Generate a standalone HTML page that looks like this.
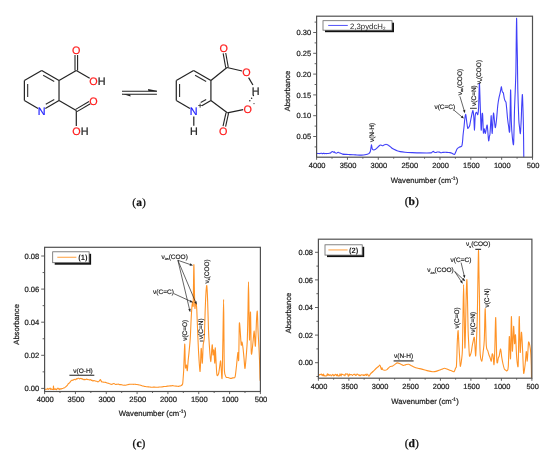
<!DOCTYPE html>
<html><head><meta charset="utf-8"><title>Figure</title>
<style>html,body{margin:0;padding:0;background:#fff;}svg{display:block;}</style></head>
<body><svg width="550" height="458" viewBox="0 0 550 458" text-rendering="geometricPrecision">
<rect width="550" height="458" fill="#fff"/>
<line x1="41.70" y1="70.50" x2="59.02" y2="80.50" stroke="#232323" stroke-width="1.2" />
<line x1="59.02" y1="80.50" x2="59.02" y2="100.50" stroke="#232323" stroke-width="1.2" />
<line x1="59.02" y1="100.50" x2="45.34" y2="108.40" stroke="#232323" stroke-width="1.2" />
<line x1="38.06" y1="108.40" x2="24.38" y2="100.50" stroke="#232323" stroke-width="1.2" />
<line x1="24.38" y1="100.50" x2="24.38" y2="80.50" stroke="#232323" stroke-width="1.2" />
<line x1="24.38" y1="80.50" x2="41.70" y2="70.50" stroke="#232323" stroke-width="1.2" />
<line x1="43.17" y1="75.16" x2="54.25" y2="81.56" stroke="#303030" stroke-width="1.1" />
<line x1="54.25" y1="99.44" x2="45.77" y2="104.34" stroke="#303030" stroke-width="1.1" />
<line x1="27.68" y1="96.90" x2="27.68" y2="84.10" stroke="#303030" stroke-width="1.1" />
<text x="41.70" y="114.99" font-family='"Liberation Sans", Arial, sans-serif' font-size="10.8" fill="#1a1aff" stroke="#1a1aff" stroke-width="0.22" text-anchor="middle" font-weight="normal" >N</text>
<line x1="59.02" y1="80.50" x2="76.30" y2="70.50" stroke="#232323" stroke-width="1.2" />
<line x1="59.02" y1="100.50" x2="76.30" y2="110.50" stroke="#232323" stroke-width="1.2" />
<line x1="77.60" y1="70.50" x2="77.60" y2="55.00" stroke="#232323" stroke-width="1.1" />
<line x1="75.00" y1="70.50" x2="75.00" y2="55.00" stroke="#232323" stroke-width="1.1" />
<text x="76.20" y="54.39" font-family='"Liberation Sans", Arial, sans-serif' font-size="10.8" fill="#ff1a1a" stroke="#ff1a1a" stroke-width="0.22" text-anchor="middle" font-weight="normal" >O</text>
<line x1="76.30" y1="70.50" x2="89.68" y2="78.25" stroke="#232323" stroke-width="1.2" />
<text x="89.30" y="84.79" font-family='"Liberation Sans", Arial, sans-serif' font-size="10.8" fill="#222" stroke="#222" stroke-width="0.22" text-anchor="start" font-weight="normal" ><tspan fill="#ff1a1a" stroke="#ff1a1a">O</tspan><tspan fill="#222" stroke="#222">H</tspan></text>
<line x1="76.96" y1="111.62" x2="90.34" y2="103.79" stroke="#232323" stroke-width="1.1" />
<line x1="75.64" y1="109.38" x2="89.03" y2="101.55" stroke="#232323" stroke-width="1.1" />
<text x="93.50" y="104.59" font-family='"Liberation Sans", Arial, sans-serif' font-size="10.8" fill="#ff1a1a" stroke="#ff1a1a" stroke-width="0.22" text-anchor="middle" font-weight="normal" >O</text>
<line x1="76.30" y1="110.50" x2="76.30" y2="126.00" stroke="#232323" stroke-width="1.2" />
<text x="72.30" y="134.89" font-family='"Liberation Sans", Arial, sans-serif' font-size="10.8" fill="#222" stroke="#222" stroke-width="0.22" text-anchor="start" font-weight="normal" ><tspan fill="#ff1a1a" stroke="#ff1a1a">O</tspan><tspan fill="#222" stroke="#222">H</tspan></text>
<line x1="193.60" y1="70.50" x2="210.92" y2="80.50" stroke="#232323" stroke-width="1.2" />
<line x1="210.92" y1="80.50" x2="210.92" y2="100.50" stroke="#232323" stroke-width="1.2" />
<line x1="210.92" y1="100.50" x2="201.83" y2="105.75" stroke="#232323" stroke-width="1.2" />
<line x1="189.96" y1="108.40" x2="176.28" y2="100.50" stroke="#232323" stroke-width="1.2" />
<line x1="176.28" y1="100.50" x2="176.28" y2="80.50" stroke="#232323" stroke-width="1.2" />
<line x1="176.28" y1="80.50" x2="193.60" y2="70.50" stroke="#232323" stroke-width="1.2" />
<line x1="195.07" y1="75.16" x2="206.15" y2="81.56" stroke="#303030" stroke-width="1.1" />
<line x1="206.15" y1="99.44" x2="200.70" y2="102.59" stroke="#303030" stroke-width="1.1" />
<line x1="179.58" y1="96.90" x2="179.58" y2="84.10" stroke="#303030" stroke-width="1.1" />
<text x="193.60" y="114.99" font-family='"Liberation Sans", Arial, sans-serif' font-size="10.8" fill="#1a1aff" stroke="#1a1aff" stroke-width="0.22" text-anchor="middle" font-weight="normal" >N</text>
<text x="200.00" y="107.80" font-family='"Liberation Sans", Arial, sans-serif' font-size="7.2" fill="#222" stroke="#222" stroke-width="0.22" text-anchor="middle" font-weight="normal" >+</text>
<line x1="210.92" y1="80.50" x2="227.00" y2="67.50" stroke="#232323" stroke-width="1.2" />
<line x1="210.92" y1="100.50" x2="227.30" y2="112.80" stroke="#232323" stroke-width="1.2" />
<line x1="228.28" y1="67.27" x2="225.73" y2="53.00" stroke="#232323" stroke-width="1.1" />
<line x1="225.72" y1="67.73" x2="223.17" y2="53.45" stroke="#232323" stroke-width="1.1" />
<text x="223.60" y="52.39" font-family='"Liberation Sans", Arial, sans-serif' font-size="10.8" fill="#ff1a1a" stroke="#ff1a1a" stroke-width="0.22" text-anchor="middle" font-weight="normal" >O</text>
<line x1="227.00" y1="67.50" x2="242.12" y2="70.99" stroke="#232323" stroke-width="1.2" />
<text x="246.50" y="75.99" font-family='"Liberation Sans", Arial, sans-serif' font-size="10.8" fill="#ff1a1a" stroke="#ff1a1a" stroke-width="0.22" text-anchor="middle" font-weight="normal" >O</text>
<line x1="248.60" y1="77.60" x2="252.90" y2="85.00" stroke="#232323" stroke-width="1.2" />
<text x="255.60" y="95.29" font-family='"Liberation Sans", Arial, sans-serif' font-size="10.8" fill="#222" stroke="#222" stroke-width="0.22" text-anchor="middle" font-weight="normal" >H</text>
<line x1="226.03" y1="112.52" x2="223.06" y2="126.03" stroke="#232323" stroke-width="1.1" />
<line x1="228.57" y1="113.08" x2="225.60" y2="126.59" stroke="#232323" stroke-width="1.1" />
<text x="223.30" y="134.99" font-family='"Liberation Sans", Arial, sans-serif' font-size="10.8" fill="#ff1a1a" stroke="#ff1a1a" stroke-width="0.22" text-anchor="middle" font-weight="normal" >O</text>
<line x1="227.30" y1="112.80" x2="243.18" y2="109.67" stroke="#232323" stroke-width="1.2" />
<text x="247.60" y="112.69" font-family='"Liberation Sans", Arial, sans-serif' font-size="10.8" fill="#ff1a1a" stroke="#ff1a1a" stroke-width="0.22" text-anchor="middle" font-weight="normal" >O</text>
<circle cx="254.0" cy="103.6" r="0.55" fill="#222"/>
<circle cx="249.8" cy="100.8" r="0.75" fill="#222"/>
<circle cx="251.6" cy="98.2" r="0.75" fill="#222"/>
<circle cx="253.4" cy="95.4" r="0.75" fill="#222"/>
<line x1="193.80" y1="116.40" x2="193.80" y2="125.80" stroke="#232323" stroke-width="1.2" />
<text x="193.80" y="134.89" font-family='"Liberation Sans", Arial, sans-serif' font-size="10.8" fill="#222" stroke="#222" stroke-width="0.22" text-anchor="middle" font-weight="normal" >H</text>
<line x1="122.00" y1="91.20" x2="156.90" y2="91.20" stroke="#222" stroke-width="1.1" />
<polygon points="148.0,88.9 156.9,90.7 156.9,91.6 148.4,91.0" fill="#222"/>
<line x1="122.00" y1="94.20" x2="156.90" y2="94.20" stroke="#222" stroke-width="1.1" />
<polygon points="122.0,93.8 130.6,96.4 130.2,94.6 122,94.0" fill="#222"/>
<text x="139.00" y="205.60" font-family='"Liberation Serif", "Times New Roman", serif' font-size="11.5" fill="#111" stroke="#111" stroke-width="0.22" text-anchor="middle" font-weight="normal" >(<tspan font-weight="bold">a</tspan>)</text>
<line x1="313.20" y1="136.50" x2="316.60" y2="136.50" stroke="#505050" stroke-width="0.9" />
<text x="311.20" y="139.10" font-family='"Liberation Sans", Arial, sans-serif' font-size="7.5" fill="#1e1e1e" stroke="#1e1e1e" stroke-width="0.22" text-anchor="end" font-weight="normal" >0.05</text>
<line x1="313.20" y1="115.70" x2="316.60" y2="115.70" stroke="#505050" stroke-width="0.9" />
<text x="311.20" y="118.30" font-family='"Liberation Sans", Arial, sans-serif' font-size="7.5" fill="#1e1e1e" stroke="#1e1e1e" stroke-width="0.22" text-anchor="end" font-weight="normal" >0.10</text>
<line x1="313.20" y1="94.90" x2="316.60" y2="94.90" stroke="#505050" stroke-width="0.9" />
<text x="311.20" y="97.50" font-family='"Liberation Sans", Arial, sans-serif' font-size="7.5" fill="#1e1e1e" stroke="#1e1e1e" stroke-width="0.22" text-anchor="end" font-weight="normal" >0.15</text>
<line x1="313.20" y1="74.10" x2="316.60" y2="74.10" stroke="#505050" stroke-width="0.9" />
<text x="311.20" y="76.70" font-family='"Liberation Sans", Arial, sans-serif' font-size="7.5" fill="#1e1e1e" stroke="#1e1e1e" stroke-width="0.22" text-anchor="end" font-weight="normal" >0.20</text>
<line x1="313.20" y1="53.30" x2="316.60" y2="53.30" stroke="#505050" stroke-width="0.9" />
<text x="311.20" y="55.90" font-family='"Liberation Sans", Arial, sans-serif' font-size="7.5" fill="#1e1e1e" stroke="#1e1e1e" stroke-width="0.22" text-anchor="end" font-weight="normal" >0.25</text>
<line x1="313.20" y1="32.50" x2="316.60" y2="32.50" stroke="#505050" stroke-width="0.9" />
<text x="311.20" y="35.10" font-family='"Liberation Sans", Arial, sans-serif' font-size="7.5" fill="#1e1e1e" stroke="#1e1e1e" stroke-width="0.22" text-anchor="end" font-weight="normal" >0.30</text>
<line x1="314.60" y1="146.90" x2="316.60" y2="146.90" stroke="#505050" stroke-width="0.9" />
<line x1="314.60" y1="126.10" x2="316.60" y2="126.10" stroke="#505050" stroke-width="0.9" />
<line x1="314.60" y1="105.30" x2="316.60" y2="105.30" stroke="#505050" stroke-width="0.9" />
<line x1="314.60" y1="84.50" x2="316.60" y2="84.50" stroke="#505050" stroke-width="0.9" />
<line x1="314.60" y1="63.70" x2="316.60" y2="63.70" stroke="#505050" stroke-width="0.9" />
<line x1="314.60" y1="42.90" x2="316.60" y2="42.90" stroke="#505050" stroke-width="0.9" />
<line x1="314.60" y1="22.10" x2="316.60" y2="22.10" stroke="#505050" stroke-width="0.9" />
<line x1="316.60" y1="157.20" x2="316.60" y2="159.80" stroke="#505050" stroke-width="0.9" />
<text x="317.20" y="167.80" font-family='"Liberation Sans", Arial, sans-serif' font-size="7.5" fill="#1e1e1e" stroke="#1e1e1e" stroke-width="0.22" text-anchor="middle" font-weight="normal" >4000</text>
<line x1="347.44" y1="157.20" x2="347.44" y2="159.80" stroke="#505050" stroke-width="0.9" />
<text x="348.04" y="167.80" font-family='"Liberation Sans", Arial, sans-serif' font-size="7.5" fill="#1e1e1e" stroke="#1e1e1e" stroke-width="0.22" text-anchor="middle" font-weight="normal" >3500</text>
<line x1="378.29" y1="157.20" x2="378.29" y2="159.80" stroke="#505050" stroke-width="0.9" />
<text x="378.89" y="167.80" font-family='"Liberation Sans", Arial, sans-serif' font-size="7.5" fill="#1e1e1e" stroke="#1e1e1e" stroke-width="0.22" text-anchor="middle" font-weight="normal" >3000</text>
<line x1="409.13" y1="157.20" x2="409.13" y2="159.80" stroke="#505050" stroke-width="0.9" />
<text x="409.73" y="167.80" font-family='"Liberation Sans", Arial, sans-serif' font-size="7.5" fill="#1e1e1e" stroke="#1e1e1e" stroke-width="0.22" text-anchor="middle" font-weight="normal" >2500</text>
<line x1="439.97" y1="157.20" x2="439.97" y2="159.80" stroke="#505050" stroke-width="0.9" />
<text x="440.57" y="167.80" font-family='"Liberation Sans", Arial, sans-serif' font-size="7.5" fill="#1e1e1e" stroke="#1e1e1e" stroke-width="0.22" text-anchor="middle" font-weight="normal" >2000</text>
<line x1="470.82" y1="157.20" x2="470.82" y2="159.80" stroke="#505050" stroke-width="0.9" />
<text x="471.42" y="167.80" font-family='"Liberation Sans", Arial, sans-serif' font-size="7.5" fill="#1e1e1e" stroke="#1e1e1e" stroke-width="0.22" text-anchor="middle" font-weight="normal" >1500</text>
<line x1="501.66" y1="157.20" x2="501.66" y2="159.80" stroke="#505050" stroke-width="0.9" />
<text x="502.26" y="167.80" font-family='"Liberation Sans", Arial, sans-serif' font-size="7.5" fill="#1e1e1e" stroke="#1e1e1e" stroke-width="0.22" text-anchor="middle" font-weight="normal" >1000</text>
<line x1="532.50" y1="157.20" x2="532.50" y2="159.80" stroke="#505050" stroke-width="0.9" />
<text x="533.10" y="167.80" font-family='"Liberation Sans", Arial, sans-serif' font-size="7.5" fill="#1e1e1e" stroke="#1e1e1e" stroke-width="0.22" text-anchor="middle" font-weight="normal" >500</text>
<line x1="332.02" y1="157.20" x2="332.02" y2="158.70" stroke="#505050" stroke-width="0.9" />
<line x1="362.86" y1="157.20" x2="362.86" y2="158.70" stroke="#505050" stroke-width="0.9" />
<line x1="393.71" y1="157.20" x2="393.71" y2="158.70" stroke="#505050" stroke-width="0.9" />
<line x1="424.55" y1="157.20" x2="424.55" y2="158.70" stroke="#505050" stroke-width="0.9" />
<line x1="455.39" y1="157.20" x2="455.39" y2="158.70" stroke="#505050" stroke-width="0.9" />
<line x1="486.24" y1="157.20" x2="486.24" y2="158.70" stroke="#505050" stroke-width="0.9" />
<line x1="517.08" y1="157.20" x2="517.08" y2="158.70" stroke="#505050" stroke-width="0.9" />
<clipPath id="cb"><rect x="316.6" y="16.2" width="215.89999999999998" height="141.0"/></clipPath>
<path clip-path="url(#cb)" d="M316.80,153.37 C316.91,153.39 317.39,153.51 317.60,153.52 C317.81,153.53 318.19,153.43 318.40,153.43 C318.61,153.44 318.99,153.53 319.20,153.55 C319.41,153.57 319.79,153.60 320.00,153.56 C320.21,153.53 320.59,153.32 320.80,153.28 C321.01,153.24 321.39,153.21 321.60,153.26 C321.81,153.31 322.19,153.65 322.40,153.67 C322.61,153.69 322.99,153.42 323.20,153.38 C323.41,153.34 323.79,153.32 324.00,153.37 C324.21,153.42 324.59,153.73 324.80,153.75 C325.01,153.76 325.39,153.50 325.60,153.49 C325.81,153.47 326.19,153.67 326.40,153.67 C326.61,153.67 326.99,153.50 327.20,153.49 C327.41,153.48 327.79,153.59 328.00,153.57 C328.21,153.55 328.47,153.40 328.80,153.33 C329.13,153.25 330.14,153.18 330.50,153.00 C330.86,152.82 331.21,152.20 331.50,152.00 C331.79,151.80 332.43,151.46 332.70,151.50 C332.97,151.54 333.29,152.25 333.50,152.30 C333.71,152.35 334.07,151.83 334.30,151.90 C334.53,151.97 334.91,152.63 335.20,152.80 C335.49,152.97 336.19,153.23 336.50,153.20 C336.81,153.17 337.25,152.73 337.50,152.60 C337.75,152.47 338.17,152.17 338.40,152.20 C338.63,152.23 338.99,152.68 339.20,152.80 C339.41,152.92 339.55,152.93 340.00,153.10 C340.45,153.27 341.80,153.93 342.60,154.10 C343.40,154.27 345.01,154.33 346.00,154.40 C346.99,154.47 348.67,154.53 350.00,154.60 C351.33,154.67 354.47,154.83 356.00,154.90 C357.53,154.97 360.30,155.11 361.50,155.10 C362.70,155.09 364.03,155.00 365.00,154.80 C365.97,154.60 368.09,154.04 368.80,153.60 C369.51,153.16 370.01,152.31 370.30,151.50 C370.59,150.69 370.84,148.39 371.00,147.50 C371.16,146.61 371.37,144.76 371.50,144.80 C371.63,144.84 371.85,147.19 372.00,147.80 C372.15,148.41 372.35,149.11 372.60,149.40 C372.85,149.69 373.51,150.01 373.90,150.00 C374.29,149.99 375.09,149.57 375.50,149.30 C375.91,149.03 376.53,148.44 377.00,148.00 C377.47,147.56 378.53,146.40 379.00,146.00 C379.47,145.60 380.17,145.09 380.50,145.00 C380.83,144.91 381.22,145.21 381.50,145.30 C381.78,145.39 382.33,145.70 382.60,145.70 C382.87,145.70 383.25,145.42 383.50,145.30 C383.75,145.18 384.17,144.95 384.50,144.80 C384.83,144.65 385.60,144.20 386.00,144.20 C386.40,144.20 387.10,144.59 387.50,144.80 C387.90,145.01 388.60,145.52 389.00,145.80 C389.40,146.08 390.03,146.54 390.50,146.90 C390.97,147.26 391.98,148.14 392.50,148.50 C393.02,148.86 393.80,149.31 394.40,149.60 C395.00,149.89 396.23,150.43 397.00,150.70 C397.77,150.97 399.13,151.40 400.20,151.60 C401.27,151.80 403.45,152.07 405.00,152.20 C406.55,152.33 409.80,152.51 411.80,152.60 C413.80,152.69 417.48,152.86 420.00,152.90 C422.52,152.94 429.10,152.99 430.70,152.90 C432.30,152.81 431.65,152.40 432.00,152.20 C432.35,152.00 432.97,151.39 433.30,151.40 C433.63,151.41 434.14,152.15 434.50,152.30 C434.86,152.45 435.63,152.54 436.00,152.50 C436.37,152.46 436.83,152.05 437.30,152.00 C437.77,151.95 439.01,151.99 439.50,152.10 C439.99,152.21 440.53,152.76 441.00,152.80 C441.47,152.84 442.43,152.48 443.00,152.40 C443.57,152.32 444.63,152.19 445.30,152.20 C445.97,152.21 447.37,152.45 448.00,152.50 C448.63,152.55 449.47,152.49 450.00,152.60 C450.53,152.71 451.43,153.05 452.00,153.30 C452.57,153.55 453.83,154.61 454.30,154.50 C454.77,154.39 455.11,153.26 455.50,152.50 C455.89,151.74 456.71,149.51 457.20,148.80 C457.69,148.09 458.59,147.59 459.20,147.20 C459.81,146.81 461.35,146.73 461.80,145.90 C462.25,145.07 462.43,142.49 462.60,141.00 C462.77,139.51 462.90,136.67 463.10,134.70 C463.30,132.73 463.89,128.20 464.10,126.20 C464.31,124.20 464.49,121.27 464.70,119.70 C464.91,118.13 465.42,114.05 465.70,114.40 C465.98,114.75 466.53,120.46 466.80,122.30 C467.07,124.14 467.46,127.51 467.70,128.20 C467.94,128.89 468.33,127.86 468.60,127.50 C468.87,127.14 469.38,126.70 469.70,125.50 C470.02,124.30 470.75,119.81 471.00,118.50 C471.25,117.19 471.35,116.77 471.60,115.70 C471.85,114.63 472.61,110.33 472.90,110.50 C473.19,110.67 473.59,114.39 473.80,117.00 C474.01,119.61 474.31,130.27 474.50,130.10 C474.69,129.93 474.97,118.06 475.20,115.70 C475.43,113.34 475.93,112.71 476.20,112.40 C476.47,112.09 476.99,113.12 477.20,113.40 C477.41,113.68 477.61,115.23 477.80,114.50 C477.99,113.77 478.39,112.05 478.60,107.90 C478.81,103.75 479.19,83.92 479.40,83.40 C479.61,82.88 479.96,97.77 480.20,104.00 C480.44,110.23 480.95,128.71 481.20,130.10 C481.45,131.49 481.90,116.35 482.10,114.40 C482.30,112.45 482.53,113.05 482.70,115.50 C482.87,117.95 483.19,131.03 483.40,132.80 C483.61,134.57 484.03,128.72 484.30,128.80 C484.57,128.88 485.12,133.51 485.40,133.40 C485.68,133.29 486.15,129.05 486.40,128.00 C486.65,126.95 487.01,123.82 487.30,125.50 C487.59,127.18 488.31,139.20 488.60,140.60 C488.89,142.00 489.31,136.88 489.50,136.00 C489.69,135.12 489.80,136.44 490.00,134.00 C490.20,131.56 490.83,119.97 491.00,117.70 C491.17,115.43 491.14,114.91 491.30,117.00 C491.46,119.09 491.91,133.92 492.20,133.40 C492.49,132.88 493.10,113.89 493.50,113.10 C493.90,112.31 494.80,126.62 495.20,127.50 C495.60,128.38 496.15,122.67 496.50,119.70 C496.85,116.73 497.45,108.20 497.80,105.20 C498.15,102.20 498.79,98.80 499.10,97.20 C499.41,95.60 499.87,94.23 500.10,93.20 C500.33,92.17 500.63,90.37 500.80,89.50 C500.97,88.63 501.24,86.57 501.40,86.70 C501.56,86.83 501.85,89.81 502.00,90.50 C502.15,91.19 502.31,91.54 502.50,91.90 C502.69,92.26 503.16,92.32 503.40,93.20 C503.64,94.08 504.06,97.46 504.30,98.50 C504.54,99.54 504.97,100.48 505.20,101.00 C505.43,101.52 505.79,101.20 506.00,102.40 C506.21,103.60 506.59,107.79 506.80,110.00 C507.01,112.21 507.36,116.87 507.60,119.00 C507.84,121.13 508.32,124.43 508.60,126.00 C508.88,127.57 509.43,135.60 509.70,130.80 C509.97,126.00 510.39,91.31 510.60,90.00 C510.81,88.69 511.07,114.77 511.30,121.00 C511.53,127.23 511.99,133.65 512.30,136.70 C512.61,139.75 513.31,147.46 513.60,143.90 C513.89,140.34 514.29,116.93 514.50,110.00 C514.71,103.07 515.01,97.10 515.20,91.90 C515.39,86.70 515.77,77.25 515.90,71.00 C516.03,64.75 516.11,52.03 516.20,45.00 C516.29,37.97 516.49,18.97 516.60,18.30 C516.71,17.63 516.89,34.72 517.00,40.00 C517.11,45.28 517.29,51.33 517.40,57.90 C517.51,64.47 517.61,81.06 517.80,89.30 C517.99,97.54 518.56,114.54 518.80,119.70 C519.04,124.86 519.39,126.17 519.60,128.00 C519.81,129.83 520.17,134.73 520.40,133.40 C520.63,132.07 521.13,121.65 521.30,118.00 C521.47,114.35 521.55,109.13 521.70,106.00 C521.85,102.87 522.23,93.97 522.40,94.50 C522.57,95.03 522.87,105.93 523.00,110.00 C523.13,114.07 523.29,118.65 523.40,125.00 C523.51,131.35 523.75,153.25 523.80,157.60" fill="none" stroke="#4040f8" stroke-width="1.1" stroke-linejoin="round"/>
<rect x="316.6" y="16.2" width="215.89999999999998" height="141.0" fill="none" stroke="#505050" stroke-width="1.2"/>
<text transform="translate(290.3,91.1) rotate(-90)" font-family='"Liberation Sans", Arial, sans-serif' font-size="7.6" fill="#1e1e1e" stroke="#1e1e1e" stroke-width="0.22" text-anchor="middle">Absorbance</text>
<text x="424.5" y="183.0" font-family='"Liberation Sans", Arial, sans-serif' font-size="7.7" fill="#1e1e1e" stroke="#1e1e1e" stroke-width="0.22" text-anchor="middle">Wavenumber (cm<tspan font-size="5" dy="-3">-1</tspan><tspan dy="3">)</tspan></text>
<rect x="325" y="22.7" width="69" height="9.5" fill="#111"/>
<rect x="323" y="20.7" width="69" height="9.5" fill="#fff" stroke="#666" stroke-width="0.8"/>
<line x1="328.20" y1="25.45" x2="347.80" y2="25.45" stroke="#4040f8" stroke-width="0.9" />
<text x="350" y="28.7" font-family='"Liberation Sans", Arial, sans-serif' font-size="7.8" fill="#1e1e1e">2,3pydcH<tspan font-size="4.5" dy="1.5">2</tspan></text>
<text x="411.8" y="204.6" font-family='"Liberation Serif", "Times New Roman", serif' font-size="11.5" fill="#111" stroke="#111" stroke-width="0.25" text-anchor="middle">(<tspan font-weight="bold">b</tspan>)</text>
<text transform="translate(374.00,132.50) rotate(-90)" font-family='"Liberation Sans", Arial, sans-serif' font-size="6.5" fill="#1e1e1e" stroke="#1e1e1e" stroke-width="0.18" text-anchor="middle">&#957;(N-H)</text>
<text x="444.80" y="109.00" font-family='"Liberation Sans", Arial, sans-serif' font-size="6.5" fill="#1e1e1e" stroke="#1e1e1e" stroke-width="0.18" text-anchor="middle">&#957;(C=C)</text>
<line x1="454.00" y1="110.20" x2="461.78" y2="116.73" stroke="#222" stroke-width="0.7" />
<polygon points="464.00,118.60 460.75,117.50 462.35,115.58" fill="#222"/>
<text transform="translate(461.50,82.10) rotate(-90)" font-family='"Liberation Sans", Arial, sans-serif' font-size="6.5" fill="#1e1e1e" stroke="#1e1e1e" stroke-width="0.18" text-anchor="middle">&#957;<tspan font-size="3.8" dy="1.6">as</tspan><tspan dy="-1.6">(COO)</tspan></text>
<line x1="459.90" y1="96.30" x2="464.16" y2="110.42" stroke="#222" stroke-width="0.7" />
<polygon points="465.00,113.20 462.88,110.50 465.27,109.78" fill="#222"/>
<text transform="translate(476.00,95.60) rotate(-90)" font-family='"Liberation Sans", Arial, sans-serif' font-size="6.5" fill="#1e1e1e" stroke="#1e1e1e" stroke-width="0.18" text-anchor="middle">&#957;(C=N)</text>
<line x1="470.00" y1="108.30" x2="476.80" y2="108.30" stroke="#222" stroke-width="0.9" />
<text transform="translate(480.60,72.10) rotate(-90)" font-family='"Liberation Sans", Arial, sans-serif' font-size="6.5" fill="#1e1e1e" stroke="#1e1e1e" stroke-width="0.18" text-anchor="middle">&#957;<tspan font-size="3.8" dy="1.6">s</tspan><tspan dy="-1.6">(COO)</tspan></text>
<line x1="41.20" y1="388.40" x2="44.60" y2="388.40" stroke="#505050" stroke-width="0.9" />
<text x="39.20" y="391.00" font-family='"Liberation Sans", Arial, sans-serif' font-size="7.6" fill="#1e1e1e" stroke="#1e1e1e" stroke-width="0.22" text-anchor="end" font-weight="normal" >0.00</text>
<line x1="41.20" y1="355.30" x2="44.60" y2="355.30" stroke="#505050" stroke-width="0.9" />
<text x="39.20" y="357.90" font-family='"Liberation Sans", Arial, sans-serif' font-size="7.6" fill="#1e1e1e" stroke="#1e1e1e" stroke-width="0.22" text-anchor="end" font-weight="normal" >0.02</text>
<line x1="41.20" y1="322.20" x2="44.60" y2="322.20" stroke="#505050" stroke-width="0.9" />
<text x="39.20" y="324.80" font-family='"Liberation Sans", Arial, sans-serif' font-size="7.6" fill="#1e1e1e" stroke="#1e1e1e" stroke-width="0.22" text-anchor="end" font-weight="normal" >0.04</text>
<line x1="41.20" y1="289.10" x2="44.60" y2="289.10" stroke="#505050" stroke-width="0.9" />
<text x="39.20" y="291.70" font-family='"Liberation Sans", Arial, sans-serif' font-size="7.6" fill="#1e1e1e" stroke="#1e1e1e" stroke-width="0.22" text-anchor="end" font-weight="normal" >0.06</text>
<line x1="41.20" y1="256.00" x2="44.60" y2="256.00" stroke="#505050" stroke-width="0.9" />
<text x="39.20" y="258.60" font-family='"Liberation Sans", Arial, sans-serif' font-size="7.6" fill="#1e1e1e" stroke="#1e1e1e" stroke-width="0.22" text-anchor="end" font-weight="normal" >0.08</text>
<line x1="42.60" y1="371.85" x2="44.60" y2="371.85" stroke="#505050" stroke-width="0.9" />
<line x1="42.60" y1="338.75" x2="44.60" y2="338.75" stroke="#505050" stroke-width="0.9" />
<line x1="42.60" y1="305.65" x2="44.60" y2="305.65" stroke="#505050" stroke-width="0.9" />
<line x1="42.60" y1="272.55" x2="44.60" y2="272.55" stroke="#505050" stroke-width="0.9" />
<line x1="44.60" y1="391.50" x2="44.60" y2="394.10" stroke="#505050" stroke-width="0.9" />
<text x="45.20" y="402.20" font-family='"Liberation Sans", Arial, sans-serif' font-size="7.6" fill="#1e1e1e" stroke="#1e1e1e" stroke-width="0.22" text-anchor="middle" font-weight="normal" >4000</text>
<line x1="75.43" y1="391.50" x2="75.43" y2="394.10" stroke="#505050" stroke-width="0.9" />
<text x="76.03" y="402.20" font-family='"Liberation Sans", Arial, sans-serif' font-size="7.6" fill="#1e1e1e" stroke="#1e1e1e" stroke-width="0.22" text-anchor="middle" font-weight="normal" >3500</text>
<line x1="106.26" y1="391.50" x2="106.26" y2="394.10" stroke="#505050" stroke-width="0.9" />
<text x="106.86" y="402.20" font-family='"Liberation Sans", Arial, sans-serif' font-size="7.6" fill="#1e1e1e" stroke="#1e1e1e" stroke-width="0.22" text-anchor="middle" font-weight="normal" >3000</text>
<line x1="137.09" y1="391.50" x2="137.09" y2="394.10" stroke="#505050" stroke-width="0.9" />
<text x="137.69" y="402.20" font-family='"Liberation Sans", Arial, sans-serif' font-size="7.6" fill="#1e1e1e" stroke="#1e1e1e" stroke-width="0.22" text-anchor="middle" font-weight="normal" >2500</text>
<line x1="167.91" y1="391.50" x2="167.91" y2="394.10" stroke="#505050" stroke-width="0.9" />
<text x="168.51" y="402.20" font-family='"Liberation Sans", Arial, sans-serif' font-size="7.6" fill="#1e1e1e" stroke="#1e1e1e" stroke-width="0.22" text-anchor="middle" font-weight="normal" >2000</text>
<line x1="198.74" y1="391.50" x2="198.74" y2="394.10" stroke="#505050" stroke-width="0.9" />
<text x="199.34" y="402.20" font-family='"Liberation Sans", Arial, sans-serif' font-size="7.6" fill="#1e1e1e" stroke="#1e1e1e" stroke-width="0.22" text-anchor="middle" font-weight="normal" >1500</text>
<line x1="229.57" y1="391.50" x2="229.57" y2="394.10" stroke="#505050" stroke-width="0.9" />
<text x="230.17" y="402.20" font-family='"Liberation Sans", Arial, sans-serif' font-size="7.6" fill="#1e1e1e" stroke="#1e1e1e" stroke-width="0.22" text-anchor="middle" font-weight="normal" >1000</text>
<line x1="260.40" y1="391.50" x2="260.40" y2="394.10" stroke="#505050" stroke-width="0.9" />
<text x="261.00" y="402.20" font-family='"Liberation Sans", Arial, sans-serif' font-size="7.6" fill="#1e1e1e" stroke="#1e1e1e" stroke-width="0.22" text-anchor="middle" font-weight="normal" >500</text>
<line x1="60.01" y1="391.50" x2="60.01" y2="393.00" stroke="#505050" stroke-width="0.9" />
<line x1="90.84" y1="391.50" x2="90.84" y2="393.00" stroke="#505050" stroke-width="0.9" />
<line x1="121.67" y1="391.50" x2="121.67" y2="393.00" stroke="#505050" stroke-width="0.9" />
<line x1="152.50" y1="391.50" x2="152.50" y2="393.00" stroke="#505050" stroke-width="0.9" />
<line x1="183.33" y1="391.50" x2="183.33" y2="393.00" stroke="#505050" stroke-width="0.9" />
<line x1="214.16" y1="391.50" x2="214.16" y2="393.00" stroke="#505050" stroke-width="0.9" />
<line x1="244.99" y1="391.50" x2="244.99" y2="393.00" stroke="#505050" stroke-width="0.9" />
<clipPath id="cc"><rect x="44.6" y="247.3" width="215.79999999999998" height="144.2"/></clipPath>
<path clip-path="url(#cc)" d="M44.80,389.12 C44.88,389.17 45.24,389.51 45.40,389.49 C45.56,389.47 45.84,388.96 46.00,388.94 C46.16,388.91 46.44,389.25 46.60,389.29 C46.76,389.32 47.04,389.32 47.20,389.17 C47.36,389.03 47.64,388.18 47.80,388.20 C47.96,388.22 48.24,389.20 48.40,389.31 C48.56,389.43 48.84,389.14 49.00,389.05 C49.16,388.95 49.44,388.70 49.60,388.58 C49.76,388.46 50.04,388.03 50.20,388.15 C50.36,388.27 50.64,389.39 50.80,389.48 C50.96,389.58 51.24,388.89 51.40,388.86 C51.56,388.83 51.84,389.16 52.00,389.25 C52.16,389.34 52.44,389.51 52.60,389.51 C52.76,389.51 53.08,389.71 53.20,389.24 C53.32,388.78 53.42,385.96 53.50,386.00 C53.58,386.04 53.68,389.21 53.80,389.57 C53.92,389.94 54.24,388.76 54.40,388.73 C54.56,388.71 54.84,389.37 55.00,389.38 C55.16,389.39 55.44,388.78 55.60,388.81 C55.76,388.84 56.04,389.50 56.20,389.60 C56.36,389.69 56.64,389.68 56.80,389.51 C56.96,389.33 57.24,388.41 57.40,388.26 C57.56,388.10 57.84,388.29 58.00,388.32 C58.16,388.34 58.44,388.27 58.60,388.45 C58.76,388.62 59.04,389.60 59.20,389.64 C59.36,389.69 59.64,388.87 59.80,388.80 C59.96,388.73 60.24,389.13 60.40,389.10 C60.56,389.07 60.84,388.61 61.00,388.58 C61.16,388.56 61.40,388.92 61.60,388.91 C61.80,388.90 62.30,388.60 62.50,388.50 C62.70,388.40 62.94,388.22 63.10,388.17 C63.26,388.11 63.54,388.13 63.70,388.08 C63.86,388.02 64.14,387.83 64.30,387.78 C64.46,387.72 64.74,387.79 64.90,387.67 C65.06,387.56 65.34,387.06 65.50,386.91 C65.66,386.76 65.94,386.70 66.10,386.56 C66.26,386.43 66.54,386.07 66.70,385.91 C66.86,385.76 67.14,385.59 67.30,385.40 C67.46,385.21 67.74,384.75 67.90,384.48 C68.06,384.21 68.34,383.54 68.50,383.37 C68.66,383.21 68.94,383.35 69.10,383.25 C69.26,383.15 69.54,382.78 69.70,382.59 C69.86,382.41 70.14,382.08 70.30,381.86 C70.46,381.65 70.74,381.13 70.90,380.96 C71.06,380.80 71.34,380.76 71.50,380.64 C71.66,380.51 71.94,380.05 72.10,380.02 C72.26,379.99 72.54,380.41 72.70,380.41 C72.86,380.41 73.14,380.12 73.30,380.01 C73.46,379.90 73.74,379.69 73.90,379.58 C74.06,379.48 74.34,379.20 74.50,379.22 C74.66,379.24 74.94,379.69 75.10,379.75 C75.26,379.81 75.54,379.82 75.70,379.67 C75.86,379.53 76.14,378.74 76.30,378.66 C76.46,378.59 76.74,379.11 76.90,379.10 C77.06,379.10 77.34,378.74 77.50,378.63 C77.66,378.52 77.94,378.34 78.10,378.29 C78.26,378.25 78.54,378.27 78.70,378.32 C78.86,378.37 79.14,378.57 79.30,378.64 C79.46,378.71 79.74,378.90 79.90,378.84 C80.06,378.79 80.34,378.21 80.50,378.21 C80.66,378.21 80.94,378.80 81.10,378.83 C81.26,378.86 81.54,378.39 81.70,378.43 C81.86,378.47 82.14,379.08 82.30,379.15 C82.46,379.21 82.74,378.86 82.90,378.91 C83.06,378.96 83.34,379.42 83.50,379.52 C83.66,379.63 83.94,379.71 84.10,379.68 C84.26,379.66 84.54,379.30 84.70,379.32 C84.86,379.34 85.14,379.83 85.30,379.82 C85.46,379.82 85.74,379.36 85.90,379.27 C86.06,379.17 86.34,379.07 86.50,379.12 C86.66,379.17 86.94,379.65 87.10,379.67 C87.26,379.69 87.54,379.27 87.70,379.24 C87.86,379.21 88.14,379.40 88.30,379.47 C88.46,379.53 88.74,379.67 88.90,379.74 C89.06,379.81 89.34,380.01 89.50,380.00 C89.66,379.99 89.94,379.73 90.10,379.69 C90.26,379.65 90.54,379.58 90.70,379.69 C90.86,379.80 91.14,380.47 91.30,380.53 C91.46,380.59 91.74,380.09 91.90,380.13 C92.06,380.17 92.34,380.72 92.50,380.81 C92.66,380.91 92.94,380.91 93.10,380.86 C93.26,380.82 93.54,380.53 93.70,380.50 C93.86,380.48 94.14,380.64 94.30,380.69 C94.46,380.73 94.74,380.79 94.90,380.85 C95.06,380.90 95.34,381.03 95.50,381.08 C95.66,381.12 95.94,381.15 96.10,381.18 C96.26,381.21 96.54,381.25 96.70,381.29 C96.86,381.33 97.14,381.41 97.30,381.49 C97.46,381.58 97.62,382.02 97.90,381.92 C98.18,381.83 99.07,381.12 99.40,380.80 C99.73,380.48 100.17,379.49 100.40,379.50 C100.63,379.51 100.91,380.58 101.10,380.90 C101.29,381.22 101.68,381.77 101.80,381.90 C101.92,382.03 101.85,381.89 102.00,381.90 C102.15,381.92 102.66,381.97 102.90,382.01 C103.14,382.05 103.56,382.18 103.80,382.21 C104.04,382.24 104.46,382.20 104.70,382.22 C104.94,382.25 105.36,382.30 105.60,382.38 C105.84,382.47 106.26,382.76 106.50,382.84 C106.74,382.93 107.16,382.96 107.40,383.02 C107.64,383.09 108.06,383.26 108.30,383.32 C108.54,383.39 108.96,383.41 109.20,383.49 C109.44,383.56 109.86,383.78 110.10,383.88 C110.34,383.97 110.76,384.14 111.00,384.20 C111.24,384.26 111.66,384.39 111.90,384.35 C112.14,384.32 112.56,384.05 112.80,383.94 C113.04,383.83 113.46,383.55 113.70,383.54 C113.94,383.53 114.36,383.75 114.60,383.87 C114.84,384.00 115.26,384.41 115.50,384.48 C115.74,384.54 116.16,384.38 116.40,384.35 C116.64,384.32 117.06,384.28 117.30,384.25 C117.54,384.22 117.96,384.11 118.20,384.13 C118.44,384.15 118.86,384.33 119.10,384.40 C119.34,384.46 119.76,384.56 120.00,384.59 C120.24,384.61 120.66,384.57 120.90,384.60 C121.14,384.63 121.56,384.73 121.80,384.79 C122.04,384.86 122.46,385.02 122.70,385.08 C122.94,385.14 123.36,385.23 123.60,385.25 C123.84,385.26 124.26,385.17 124.50,385.17 C124.74,385.17 125.16,385.26 125.40,385.24 C125.64,385.23 126.06,385.13 126.30,385.07 C126.54,385.01 126.96,384.85 127.20,384.79 C127.44,384.73 127.86,384.65 128.10,384.59 C128.34,384.54 128.76,384.41 129.00,384.37 C129.24,384.33 129.66,384.28 129.90,384.27 C130.14,384.26 130.56,384.33 130.80,384.32 C131.04,384.32 131.46,384.26 131.70,384.25 C131.94,384.25 132.36,384.26 132.60,384.27 C132.84,384.29 133.26,384.38 133.50,384.37 C133.74,384.35 134.16,384.19 134.40,384.19 C134.64,384.18 135.06,384.28 135.30,384.32 C135.54,384.36 135.96,384.46 136.20,384.49 C136.44,384.52 136.86,384.51 137.10,384.53 C137.34,384.55 137.76,384.60 138.00,384.66 C138.24,384.71 138.66,384.90 138.90,384.94 C139.14,384.98 139.56,384.93 139.80,384.97 C140.04,385.01 140.46,385.16 140.70,385.24 C140.94,385.33 141.36,385.50 141.60,385.59 C141.84,385.68 142.26,385.87 142.50,385.94 C142.74,386.00 143.16,386.02 143.40,386.08 C143.64,386.14 144.06,386.33 144.30,386.38 C144.54,386.43 144.96,386.44 145.20,386.48 C145.44,386.52 145.86,386.67 146.10,386.70 C146.34,386.73 146.76,386.68 147.00,386.70 C147.24,386.73 147.66,386.88 147.90,386.90 C148.14,386.92 148.56,386.83 148.80,386.84 C149.04,386.85 149.46,386.93 149.70,386.97 C149.94,387.02 150.36,387.11 150.60,387.15 C150.84,387.19 151.26,387.29 151.50,387.29 C151.74,387.30 152.16,387.21 152.40,387.19 C152.64,387.17 153.06,387.14 153.30,387.13 C153.54,387.12 153.96,387.10 154.20,387.11 C154.44,387.12 154.86,387.20 155.10,387.21 C155.34,387.21 155.76,387.12 156.00,387.13 C156.24,387.13 156.66,387.25 156.90,387.27 C157.14,387.29 157.56,387.30 157.80,387.28 C158.04,387.26 158.46,387.15 158.70,387.11 C158.94,387.08 159.36,387.04 159.60,387.04 C159.84,387.03 160.26,387.08 160.50,387.07 C160.74,387.05 161.16,386.95 161.40,386.93 C161.64,386.90 162.06,386.90 162.30,386.87 C162.54,386.83 162.96,386.71 163.20,386.66 C163.44,386.61 163.86,386.54 164.10,386.51 C164.34,386.48 164.76,386.45 165.00,386.45 C165.24,386.44 165.66,386.50 165.90,386.47 C166.14,386.44 166.56,386.28 166.80,386.24 C167.04,386.19 167.46,386.17 167.70,386.15 C167.94,386.12 168.36,386.08 168.60,386.05 C168.84,386.03 169.26,385.98 169.50,385.95 C169.74,385.92 170.16,385.85 170.40,385.84 C170.64,385.82 171.06,385.87 171.30,385.85 C171.54,385.83 171.96,385.68 172.20,385.66 C172.44,385.64 172.86,385.65 173.10,385.70 C173.34,385.74 173.76,385.95 174.00,386.00 C174.24,386.04 174.66,386.03 174.90,386.05 C175.14,386.08 175.56,386.15 175.80,386.15 C176.04,386.16 176.46,386.08 176.70,386.10 C176.94,386.11 177.36,386.26 177.60,386.29 C177.84,386.33 178.26,386.39 178.50,386.36 C178.74,386.34 179.16,386.16 179.40,386.10 C179.64,386.04 180.06,385.97 180.30,385.91 C180.54,385.85 180.89,385.88 181.20,385.62 C181.51,385.37 182.35,384.88 182.60,384.00 C182.85,383.12 182.95,380.87 183.10,379.00 C183.25,377.13 183.55,373.07 183.70,370.00 C183.85,366.93 184.05,359.44 184.20,356.00 C184.35,352.56 184.64,342.69 184.80,344.20 C184.96,345.71 185.17,364.53 185.40,367.30 C185.63,370.07 186.25,364.55 186.50,365.00 C186.75,365.45 187.07,371.37 187.30,370.70 C187.53,370.03 187.97,362.41 188.20,360.00 C188.43,357.59 188.72,355.55 189.00,352.60 C189.28,349.65 190.01,342.51 190.30,337.90 C190.59,333.29 190.97,322.25 191.20,318.00 C191.43,313.75 191.80,308.20 192.00,306.00 C192.20,303.80 192.54,301.50 192.70,301.50 C192.86,301.50 193.09,308.20 193.20,306.00 C193.31,303.80 193.41,290.51 193.50,285.00 C193.59,279.49 193.78,264.03 193.90,264.70 C194.02,265.37 194.27,284.23 194.40,290.00 C194.53,295.77 194.77,306.00 194.90,308.00 C195.03,310.00 195.23,305.60 195.40,305.00 C195.57,304.40 196.01,302.83 196.20,303.50 C196.39,304.17 196.64,307.13 196.80,310.00 C196.96,312.87 197.16,319.32 197.40,325.00 C197.64,330.68 198.24,346.40 198.60,352.60 C198.96,358.80 199.75,372.06 200.10,371.50 C200.45,370.94 200.91,349.51 201.20,348.40 C201.49,347.29 202.03,363.65 202.30,363.20 C202.57,362.75 202.93,348.37 203.20,345.00 C203.47,341.63 204.03,342.57 204.30,337.90 C204.57,333.23 204.97,316.12 205.20,310.00 C205.43,303.88 205.79,295.24 206.00,292.00 C206.21,288.76 206.59,284.63 206.80,285.70 C207.01,286.77 207.37,294.09 207.60,300.00 C207.83,305.91 208.29,324.23 208.50,330.00 C208.71,335.77 208.91,339.09 209.20,343.30 C209.49,347.51 210.30,361.40 210.70,361.60 C211.10,361.80 211.89,345.68 212.20,344.80 C212.51,343.92 212.79,354.31 213.00,355.00 C213.21,355.69 213.56,348.92 213.80,350.00 C214.04,351.08 214.60,363.38 214.80,363.10 C215.00,362.82 215.03,346.46 215.30,347.90 C215.57,349.34 216.37,370.43 216.80,373.90 C217.23,377.37 218.14,374.69 218.50,373.90 C218.86,373.11 219.22,369.73 219.50,368.00 C219.78,366.27 220.36,360.63 220.60,360.90 C220.84,361.17 221.10,367.76 221.30,370.00 C221.50,372.24 221.89,381.70 222.10,377.70 C222.31,373.70 222.70,350.43 222.90,340.00 C223.10,329.57 223.45,299.50 223.60,299.50 C223.75,299.50 223.89,330.49 224.00,340.00 C224.11,349.51 224.13,365.88 224.40,370.80 C224.67,375.72 225.52,376.01 226.00,376.90 C226.48,377.79 227.40,377.30 228.00,377.50 C228.60,377.70 229.83,378.36 230.50,378.40 C231.17,378.44 232.39,378.00 233.00,377.80 C233.61,377.60 234.62,378.65 235.10,376.90 C235.58,375.15 236.23,367.95 236.60,364.70 C236.97,361.45 237.62,353.13 237.90,352.50 C238.18,351.87 238.51,363.75 238.70,360.00 C238.89,356.25 239.13,328.67 239.30,324.40 C239.47,320.13 239.75,325.28 240.00,328.00 C240.25,330.72 240.93,342.93 241.20,344.80 C241.47,346.67 241.76,341.57 242.00,342.00 C242.24,342.43 242.73,345.87 243.00,348.00 C243.27,350.13 243.73,355.27 244.00,358.00 C244.27,360.73 244.69,368.90 245.00,368.50 C245.31,368.10 245.99,358.76 246.30,355.00 C246.61,351.24 247.07,346.30 247.30,340.30 C247.53,334.30 247.84,317.80 248.00,310.00 C248.16,302.20 248.37,281.80 248.50,281.80 C248.63,281.80 248.87,302.24 249.00,310.00 C249.13,317.76 249.30,339.73 249.50,340.00 C249.70,340.27 250.27,310.53 250.50,312.00 C250.73,313.47 251.01,345.60 251.20,351.00 C251.39,356.40 251.66,353.70 251.90,352.50 C252.14,351.30 252.69,344.85 253.00,342.00 C253.31,339.15 253.93,330.97 254.20,331.10 C254.47,331.23 254.83,341.15 255.00,343.00 C255.17,344.85 255.30,348.07 255.50,345.00 C255.70,341.93 256.26,324.49 256.50,320.00 C256.74,315.51 257.10,309.97 257.30,311.30 C257.50,312.63 257.80,325.53 258.00,330.00 C258.20,334.47 258.60,340.80 258.80,344.80 C259.00,348.80 259.34,355.57 259.50,360.00 C259.66,364.43 259.89,375.20 260.00,378.00 C260.11,380.80 260.26,380.60 260.30,381.00" fill="none" stroke="#ff9326" stroke-width="1.1" stroke-linejoin="round"/>
<rect x="44.6" y="247.3" width="215.79999999999998" height="144.2" fill="none" stroke="#505050" stroke-width="1.2"/>
<text transform="translate(19.3,324.4) rotate(-90)" font-family='"Liberation Sans", Arial, sans-serif' font-size="7.6" fill="#1e1e1e" stroke="#1e1e1e" stroke-width="0.22" text-anchor="middle">Absorbance</text>
<text x="152.5" y="416.3" font-family='"Liberation Sans", Arial, sans-serif' font-size="7.7" fill="#1e1e1e" stroke="#1e1e1e" stroke-width="0.22" text-anchor="middle">Wavenumber (cm<tspan font-size="5" dy="-3">-1</tspan><tspan dy="3">)</tspan></text>
<rect x="54.7" y="253.8" width="36.39999999999999" height="10.899999999999977" fill="#111"/>
<rect x="52.7" y="251.8" width="36.39999999999999" height="10.899999999999977" fill="#fff" stroke="#666" stroke-width="0.8"/>
<line x1="57.30" y1="257.25" x2="76.40" y2="257.25" stroke="#ff9326" stroke-width="0.9" />
<text x="78.3" y="260.0" font-family='"Liberation Sans", Arial, sans-serif' font-size="7.6" font-weight="bold" fill="#1e1e1e">(1)</text>
<text x="139.0" y="447.3" font-family='"Liberation Serif", "Times New Roman", serif' font-size="11.5" fill="#111" stroke="#111" stroke-width="0.25" text-anchor="middle">(<tspan font-weight="bold">c</tspan>)</text>
<text x="83.00" y="372.60" font-family='"Liberation Sans", Arial, sans-serif' font-size="6.5" fill="#1e1e1e" stroke="#1e1e1e" stroke-width="0.18" text-anchor="middle">&#957;(O-H)</text>
<line x1="69.40" y1="375.30" x2="94.30" y2="375.30" stroke="#505050" stroke-width="1.3" />
<text x="174.60" y="258.80" font-family='"Liberation Sans", Arial, sans-serif' font-size="6.5" fill="#1e1e1e" stroke="#1e1e1e" stroke-width="0.18" text-anchor="middle">&#957;<tspan font-size="3.8" dy="1.6">as</tspan><tspan dy="-1.6">(COO)</tspan></text>
<line x1="177.90" y1="260.30" x2="190.26" y2="264.56" stroke="#222" stroke-width="0.7" />
<polygon points="193.00,265.50 189.57,265.64 190.38,263.28" fill="#222"/>
<line x1="177.90" y1="260.30" x2="195.57" y2="302.13" stroke="#222" stroke-width="0.7" />
<polygon points="196.70,304.80 194.30,302.34 196.61,301.37" fill="#222"/>
<line x1="177.90" y1="260.30" x2="189.53" y2="309.38" stroke="#222" stroke-width="0.7" />
<polygon points="190.20,312.20 188.25,309.37 190.68,308.80" fill="#222"/>
<text x="163.50" y="294.00" font-family='"Liberation Sans", Arial, sans-serif' font-size="6.5" fill="#1e1e1e" stroke="#1e1e1e" stroke-width="0.18" text-anchor="middle">&#957;(C=C)</text>
<line x1="173.80" y1="293.60" x2="190.36" y2="301.19" stroke="#222" stroke-width="0.7" />
<polygon points="193.00,302.40 189.57,302.20 190.61,299.93" fill="#222"/>
<text transform="translate(208.80,271.40) rotate(-90)" font-family='"Liberation Sans", Arial, sans-serif' font-size="6.5" fill="#1e1e1e" stroke="#1e1e1e" stroke-width="0.18" text-anchor="middle">&#957;<tspan font-size="3.8" dy="1.6">s</tspan><tspan dy="-1.6">(COO)</tspan></text>
<text transform="translate(186.80,330.30) rotate(-90)" font-family='"Liberation Sans", Arial, sans-serif' font-size="6.5" fill="#1e1e1e" stroke="#1e1e1e" stroke-width="0.18" text-anchor="middle">&#957;(C=O)</text>
<text transform="translate(203.10,328.80) rotate(-90)" font-family='"Liberation Sans", Arial, sans-serif' font-size="6.5" fill="#1e1e1e" stroke="#1e1e1e" stroke-width="0.18" text-anchor="middle">&#957;(C=N)</text>
<line x1="199.90" y1="341.00" x2="203.40" y2="341.00" stroke="#222" stroke-width="0.9" />
<line x1="315.00" y1="362.70" x2="318.40" y2="362.70" stroke="#505050" stroke-width="0.9" />
<text x="313.00" y="365.30" font-family='"Liberation Sans", Arial, sans-serif' font-size="7.45" fill="#1e1e1e" stroke="#1e1e1e" stroke-width="0.22" text-anchor="end" font-weight="normal" >0.00</text>
<line x1="315.00" y1="335.10" x2="318.40" y2="335.10" stroke="#505050" stroke-width="0.9" />
<text x="313.00" y="337.70" font-family='"Liberation Sans", Arial, sans-serif' font-size="7.45" fill="#1e1e1e" stroke="#1e1e1e" stroke-width="0.22" text-anchor="end" font-weight="normal" >0.02</text>
<line x1="315.00" y1="307.50" x2="318.40" y2="307.50" stroke="#505050" stroke-width="0.9" />
<text x="313.00" y="310.10" font-family='"Liberation Sans", Arial, sans-serif' font-size="7.45" fill="#1e1e1e" stroke="#1e1e1e" stroke-width="0.22" text-anchor="end" font-weight="normal" >0.04</text>
<line x1="315.00" y1="279.90" x2="318.40" y2="279.90" stroke="#505050" stroke-width="0.9" />
<text x="313.00" y="282.50" font-family='"Liberation Sans", Arial, sans-serif' font-size="7.45" fill="#1e1e1e" stroke="#1e1e1e" stroke-width="0.22" text-anchor="end" font-weight="normal" >0.06</text>
<line x1="315.00" y1="252.30" x2="318.40" y2="252.30" stroke="#505050" stroke-width="0.9" />
<text x="313.00" y="254.90" font-family='"Liberation Sans", Arial, sans-serif' font-size="7.45" fill="#1e1e1e" stroke="#1e1e1e" stroke-width="0.22" text-anchor="end" font-weight="normal" >0.08</text>
<line x1="316.40" y1="376.50" x2="318.40" y2="376.50" stroke="#505050" stroke-width="0.9" />
<line x1="316.40" y1="348.90" x2="318.40" y2="348.90" stroke="#505050" stroke-width="0.9" />
<line x1="316.40" y1="321.30" x2="318.40" y2="321.30" stroke="#505050" stroke-width="0.9" />
<line x1="316.40" y1="293.70" x2="318.40" y2="293.70" stroke="#505050" stroke-width="0.9" />
<line x1="316.40" y1="266.10" x2="318.40" y2="266.10" stroke="#505050" stroke-width="0.9" />
<line x1="318.40" y1="378.20" x2="318.40" y2="380.80" stroke="#505050" stroke-width="0.9" />
<text x="319.10" y="389.10" font-family='"Liberation Sans", Arial, sans-serif' font-size="7.45" fill="#1e1e1e" stroke="#1e1e1e" stroke-width="0.22" text-anchor="middle" font-weight="normal" >4000</text>
<line x1="348.90" y1="378.20" x2="348.90" y2="380.80" stroke="#505050" stroke-width="0.9" />
<text x="349.60" y="389.10" font-family='"Liberation Sans", Arial, sans-serif' font-size="7.45" fill="#1e1e1e" stroke="#1e1e1e" stroke-width="0.22" text-anchor="middle" font-weight="normal" >3500</text>
<line x1="379.40" y1="378.20" x2="379.40" y2="380.80" stroke="#505050" stroke-width="0.9" />
<text x="380.10" y="389.10" font-family='"Liberation Sans", Arial, sans-serif' font-size="7.45" fill="#1e1e1e" stroke="#1e1e1e" stroke-width="0.22" text-anchor="middle" font-weight="normal" >3000</text>
<line x1="409.90" y1="378.20" x2="409.90" y2="380.80" stroke="#505050" stroke-width="0.9" />
<text x="410.60" y="389.10" font-family='"Liberation Sans", Arial, sans-serif' font-size="7.45" fill="#1e1e1e" stroke="#1e1e1e" stroke-width="0.22" text-anchor="middle" font-weight="normal" >2500</text>
<line x1="440.40" y1="378.20" x2="440.40" y2="380.80" stroke="#505050" stroke-width="0.9" />
<text x="441.10" y="389.10" font-family='"Liberation Sans", Arial, sans-serif' font-size="7.45" fill="#1e1e1e" stroke="#1e1e1e" stroke-width="0.22" text-anchor="middle" font-weight="normal" >2000</text>
<line x1="470.90" y1="378.20" x2="470.90" y2="380.80" stroke="#505050" stroke-width="0.9" />
<text x="471.60" y="389.10" font-family='"Liberation Sans", Arial, sans-serif' font-size="7.45" fill="#1e1e1e" stroke="#1e1e1e" stroke-width="0.22" text-anchor="middle" font-weight="normal" >1500</text>
<line x1="501.40" y1="378.20" x2="501.40" y2="380.80" stroke="#505050" stroke-width="0.9" />
<text x="502.10" y="389.10" font-family='"Liberation Sans", Arial, sans-serif' font-size="7.45" fill="#1e1e1e" stroke="#1e1e1e" stroke-width="0.22" text-anchor="middle" font-weight="normal" >1000</text>
<line x1="531.90" y1="378.20" x2="531.90" y2="380.80" stroke="#505050" stroke-width="0.9" />
<text x="532.60" y="389.10" font-family='"Liberation Sans", Arial, sans-serif' font-size="7.45" fill="#1e1e1e" stroke="#1e1e1e" stroke-width="0.22" text-anchor="middle" font-weight="normal" >500</text>
<line x1="333.65" y1="378.20" x2="333.65" y2="379.70" stroke="#505050" stroke-width="0.9" />
<line x1="364.15" y1="378.20" x2="364.15" y2="379.70" stroke="#505050" stroke-width="0.9" />
<line x1="394.65" y1="378.20" x2="394.65" y2="379.70" stroke="#505050" stroke-width="0.9" />
<line x1="425.15" y1="378.20" x2="425.15" y2="379.70" stroke="#505050" stroke-width="0.9" />
<line x1="455.65" y1="378.20" x2="455.65" y2="379.70" stroke="#505050" stroke-width="0.9" />
<line x1="486.15" y1="378.20" x2="486.15" y2="379.70" stroke="#505050" stroke-width="0.9" />
<line x1="516.65" y1="378.20" x2="516.65" y2="379.70" stroke="#505050" stroke-width="0.9" />
<clipPath id="cd"><rect x="318.4" y="239.2" width="213.5" height="139.0"/></clipPath>
<path clip-path="url(#cd)" d="M318.60,375.37 C318.67,375.33 319.00,375.16 319.15,375.04 C319.30,374.93 319.55,374.57 319.70,374.51 C319.85,374.46 320.10,374.65 320.25,374.63 C320.40,374.62 320.65,374.46 320.80,374.37 C320.95,374.29 321.20,373.90 321.35,374.01 C321.50,374.12 321.75,375.14 321.90,375.20 C322.05,375.27 322.30,374.44 322.45,374.51 C322.60,374.58 322.85,375.79 323.00,375.71 C323.15,375.64 323.40,373.93 323.55,373.95 C323.70,373.98 323.95,375.73 324.10,375.93 C324.25,376.13 324.50,375.44 324.65,375.45 C324.80,375.45 325.05,375.91 325.20,375.97 C325.35,376.04 325.60,375.92 325.75,375.91 C325.90,375.90 326.15,376.02 326.30,375.92 C326.45,375.82 326.70,375.45 326.85,375.18 C327.00,374.91 327.25,373.83 327.40,373.88 C327.55,373.93 327.80,375.52 327.95,375.56 C328.10,375.61 328.35,374.38 328.50,374.25 C328.65,374.11 328.90,374.39 329.05,374.54 C329.20,374.69 329.45,375.31 329.60,375.37 C329.75,375.44 330.00,375.13 330.15,375.06 C330.30,374.98 330.55,374.67 330.70,374.80 C330.85,374.93 331.10,375.95 331.25,376.01 C331.40,376.07 331.65,375.44 331.80,375.26 C331.95,375.07 332.20,374.75 332.35,374.64 C332.50,374.52 332.75,374.27 332.90,374.43 C333.05,374.59 333.30,375.76 333.45,375.83 C333.60,375.90 333.85,374.97 334.00,374.95 C334.15,374.92 334.40,375.69 334.55,375.65 C334.70,375.61 334.95,374.84 335.10,374.66 C335.25,374.48 335.50,374.25 335.65,374.30 C335.80,374.36 336.05,374.89 336.20,375.08 C336.35,375.27 336.60,375.84 336.75,375.73 C336.90,375.62 337.15,374.25 337.30,374.24 C337.45,374.24 337.70,375.44 337.85,375.67 C338.00,375.90 338.25,375.97 338.40,375.97 C338.55,375.97 338.80,375.73 338.95,375.70 C339.10,375.67 339.35,375.99 339.50,375.74 C339.65,375.50 339.90,373.93 340.05,373.87 C340.20,373.81 340.45,375.03 340.60,375.30 C340.75,375.56 341.00,376.01 341.15,375.83 C341.30,375.66 341.55,374.15 341.70,373.96 C341.85,373.78 342.10,374.41 342.25,374.47 C342.40,374.54 342.65,374.39 342.80,374.47 C342.95,374.55 343.20,375.02 343.35,375.06 C343.50,375.11 343.75,374.84 343.90,374.82 C344.05,374.81 344.30,374.83 344.45,374.94 C344.60,375.05 344.85,375.78 345.00,375.64 C345.15,375.49 345.40,374.08 345.55,373.85 C345.70,373.63 345.95,373.94 346.10,373.98 C346.25,374.01 346.50,374.12 346.65,374.14 C346.80,374.16 347.05,374.15 347.20,374.14 C347.35,374.12 347.60,373.75 347.75,374.01 C347.90,374.27 348.15,375.85 348.30,376.09 C348.45,376.33 348.70,376.09 348.85,375.82 C349.00,375.54 349.25,374.16 349.40,374.05 C349.55,373.94 349.80,374.93 349.95,375.00 C350.10,375.08 350.35,374.63 350.50,374.58 C350.65,374.52 350.90,374.56 351.05,374.57 C351.20,374.58 351.45,374.56 351.60,374.66 C351.75,374.76 352.00,375.27 352.15,375.34 C352.30,375.41 352.55,375.29 352.70,375.20 C352.85,375.11 353.10,374.80 353.25,374.68 C353.40,374.56 353.65,374.30 353.80,374.29 C353.95,374.28 354.20,374.63 354.35,374.61 C354.50,374.59 354.75,374.07 354.90,374.13 C355.05,374.20 355.30,374.95 355.45,375.13 C355.60,375.31 355.85,375.55 356.00,375.50 C356.15,375.44 356.40,374.92 356.55,374.72 C356.70,374.53 356.95,374.10 357.10,374.03 C357.25,373.97 357.50,374.17 357.65,374.26 C357.80,374.35 358.05,374.58 358.20,374.71 C358.35,374.84 358.60,375.11 358.75,375.24 C358.90,375.37 359.15,375.72 359.30,375.65 C359.45,375.58 359.70,374.72 359.85,374.72 C360.00,374.73 360.25,375.62 360.40,375.69 C360.55,375.77 360.80,375.40 360.95,375.28 C361.10,375.17 361.35,374.92 361.50,374.84 C361.65,374.77 361.90,374.69 362.05,374.71 C362.20,374.73 362.45,374.89 362.60,374.99 C362.75,375.09 363.00,375.49 363.15,375.47 C363.30,375.44 363.55,374.82 363.70,374.82 C363.85,374.81 364.10,375.43 364.25,375.45 C364.40,375.46 364.65,375.05 364.80,374.91 C364.95,374.77 365.20,374.39 365.35,374.41 C365.50,374.44 365.75,374.94 365.90,375.08 C366.05,375.22 366.30,375.59 366.45,375.45 C366.60,375.31 366.85,374.10 367.00,374.01 C367.15,373.93 367.40,374.72 367.55,374.83 C367.70,374.94 367.95,374.69 368.10,374.83 C368.25,374.97 368.50,375.72 368.65,375.87 C368.80,376.03 368.95,376.28 369.20,376.00 C369.45,375.73 369.99,374.40 370.50,373.80 C371.01,373.20 372.27,372.21 373.00,371.50 C373.73,370.79 375.27,369.17 376.00,368.50 C376.73,367.83 378.01,366.95 378.50,366.50 C378.99,366.05 379.43,365.15 379.70,365.15 C379.97,365.15 380.29,365.92 380.50,366.48 C380.71,367.04 381.10,369.16 381.30,369.35 C381.50,369.54 381.81,367.89 382.00,367.91 C382.19,367.94 382.33,369.25 382.70,369.56 C383.07,369.87 384.23,370.25 384.80,370.25 C385.37,370.25 386.31,370.06 387.00,369.58 C387.69,369.09 389.24,367.08 390.00,366.59 C390.76,366.11 392.03,366.26 392.70,365.96 C393.37,365.67 394.39,364.76 395.00,364.35 C395.61,363.94 396.63,362.98 397.30,362.90 C397.97,362.83 399.37,363.53 400.00,363.78 C400.63,364.03 401.52,364.57 402.00,364.80 C402.48,365.03 403.07,365.53 403.60,365.50 C404.13,365.47 405.32,364.77 406.00,364.60 C406.68,364.43 408.03,364.08 408.70,364.20 C409.37,364.32 410.23,365.09 411.00,365.50 C411.77,365.91 413.57,366.93 414.50,367.30 C415.43,367.67 417.03,368.06 418.00,368.30 C418.97,368.54 420.60,368.79 421.80,369.10 C423.00,369.41 425.55,370.24 427.00,370.60 C428.45,370.96 431.50,371.69 432.70,371.80 C433.90,371.91 435.03,371.64 436.00,371.40 C436.97,371.16 439.13,370.33 440.00,370.00 C440.87,369.67 441.90,369.14 442.50,368.90 C443.10,368.66 443.90,368.19 444.50,368.20 C445.10,368.21 446.39,368.76 447.00,369.00 C447.61,369.24 448.57,369.79 449.10,370.00 C449.63,370.21 450.40,370.36 451.00,370.60 C451.60,370.84 453.12,371.77 453.60,371.80 C454.08,371.83 454.33,371.31 454.60,370.80 C454.87,370.29 455.36,368.59 455.60,368.00 C455.84,367.41 456.23,368.13 456.40,366.40 C456.57,364.67 456.79,358.03 456.90,355.00 C457.01,351.97 457.04,346.95 457.20,343.70 C457.36,340.45 457.86,330.13 458.10,330.60 C458.34,331.07 458.77,343.28 459.00,347.20 C459.23,351.12 459.61,357.44 459.80,360.00 C459.99,362.56 460.16,366.48 460.40,366.40 C460.64,366.32 461.33,361.59 461.60,359.40 C461.87,357.21 462.21,355.92 462.40,350.00 C462.59,344.08 462.84,323.73 463.00,315.00 C463.16,306.27 463.44,284.50 463.60,284.50 C463.76,284.50 464.03,306.53 464.20,315.00 C464.37,323.47 464.71,346.67 464.90,348.00 C465.09,349.33 465.43,332.07 465.60,325.00 C465.77,317.93 466.03,301.05 466.20,295.00 C466.37,288.95 466.73,278.93 466.90,279.60 C467.07,280.27 467.34,293.28 467.50,300.00 C467.66,306.72 467.93,324.00 468.10,330.00 C468.27,336.00 468.61,341.53 468.80,345.00 C468.99,348.47 469.18,355.01 469.50,356.00 C469.82,356.99 470.84,353.73 471.20,352.40 C471.56,351.07 471.96,347.39 472.20,346.00 C472.44,344.61 472.71,343.12 473.00,342.00 C473.29,340.88 474.05,335.73 474.40,337.60 C474.75,339.47 475.32,355.68 475.60,356.00 C475.88,356.32 476.27,345.13 476.50,340.00 C476.73,334.87 477.11,325.50 477.30,317.50 C477.49,309.50 477.74,288.93 477.90,280.00 C478.06,271.07 478.35,251.17 478.50,250.50 C478.65,249.83 478.87,268.40 479.00,275.00 C479.13,281.60 479.37,290.00 479.50,300.00 C479.63,310.00 479.71,341.84 480.00,350.00 C480.29,358.16 481.29,360.88 481.70,361.20 C482.11,361.52 482.75,355.23 483.10,352.40 C483.45,349.57 484.02,345.83 484.30,340.00 C484.58,334.17 484.93,307.97 485.20,308.70 C485.47,309.43 485.95,339.90 486.30,345.50 C486.65,351.10 487.44,349.43 487.80,350.70 C488.16,351.97 488.69,354.07 489.00,355.00 C489.31,355.93 489.79,356.87 490.10,357.70 C490.41,358.53 491.02,361.69 491.30,361.20 C491.58,360.71 491.96,354.69 492.20,354.00 C492.44,353.31 492.86,354.57 493.10,356.00 C493.34,357.43 493.77,365.50 494.00,364.70 C494.23,363.90 494.57,356.29 494.80,350.00 C495.03,343.71 495.45,316.47 495.70,317.50 C495.95,318.53 496.47,351.65 496.70,357.70 C496.93,363.75 497.19,362.86 497.40,362.90 C497.61,362.94 498.06,358.92 498.30,358.00 C498.54,357.08 498.89,357.20 499.20,356.00 C499.51,354.80 500.25,348.77 500.60,349.00 C500.95,349.23 501.48,355.70 501.80,357.70 C502.12,359.70 502.65,362.48 503.00,364.00 C503.35,365.52 504.03,368.27 504.40,369.10 C504.77,369.93 505.44,369.97 505.80,370.20 C506.16,370.43 506.77,371.31 507.10,370.80 C507.43,370.29 508.01,370.95 508.30,366.40 C508.59,361.85 509.07,338.89 509.30,336.70 C509.53,334.51 509.83,347.20 510.00,350.00 C510.17,352.80 510.41,362.15 510.60,357.70 C510.79,353.25 511.17,317.53 511.40,316.60 C511.63,315.67 512.09,347.58 512.30,350.70 C512.51,353.82 512.81,343.27 513.00,340.00 C513.19,336.73 513.49,325.71 513.70,326.20 C513.91,326.69 514.36,342.53 514.60,343.70 C514.84,344.87 515.22,333.13 515.50,335.00 C515.78,336.87 516.35,353.51 516.70,357.70 C517.05,361.89 517.83,368.76 518.10,366.40 C518.37,364.04 518.54,346.64 518.70,340.00 C518.86,333.36 519.10,314.95 519.30,316.60 C519.50,318.25 519.92,350.31 520.20,352.40 C520.48,354.49 521.12,333.46 521.40,332.30 C521.68,331.14 522.09,340.01 522.30,343.70 C522.51,347.39 522.81,356.04 523.00,360.00 C523.19,363.96 523.42,372.77 523.70,373.40 C523.98,374.03 524.75,367.61 525.10,364.70 C525.45,361.79 526.02,352.07 526.30,351.60 C526.58,351.13 526.97,361.41 527.20,361.20 C527.43,360.99 527.81,352.56 528.00,350.00 C528.19,347.44 528.36,342.60 528.60,342.00 C528.84,341.40 529.52,344.11 529.80,345.50 C530.08,346.89 530.50,349.80 530.70,352.40 C530.90,355.00 531.19,361.59 531.30,365.00 C531.41,368.41 531.47,376.27 531.50,378.00" fill="none" stroke="#ff9326" stroke-width="1.1" stroke-linejoin="round"/>
<rect x="318.4" y="239.2" width="213.5" height="139.0" fill="none" stroke="#505050" stroke-width="1.2"/>
<text transform="translate(291.2,313.0) rotate(-90)" font-family='"Liberation Sans", Arial, sans-serif' font-size="7.6" fill="#1e1e1e" stroke="#1e1e1e" stroke-width="0.22" text-anchor="middle">Absorbance</text>
<text x="425.0" y="403.5" font-family='"Liberation Sans", Arial, sans-serif' font-size="7.7" fill="#1e1e1e" stroke="#1e1e1e" stroke-width="0.22" text-anchor="middle">Wavenumber (cm<tspan font-size="5" dy="-3">-1</tspan><tspan dy="3">)</tspan></text>
<rect x="327.0" y="246.8" width="37.19999999999999" height="10.299999999999983" fill="#111"/>
<rect x="325.0" y="244.8" width="37.19999999999999" height="10.299999999999983" fill="#fff" stroke="#666" stroke-width="0.8"/>
<line x1="328.40" y1="249.95" x2="347.60" y2="249.95" stroke="#ff9326" stroke-width="0.9" />
<text x="349.0" y="252.8" font-family='"Liberation Sans", Arial, sans-serif' font-size="7.6" font-weight="bold" fill="#1e1e1e">(2)</text>
<text x="411.8" y="447.3" font-family='"Liberation Serif", "Times New Roman", serif' font-size="11.5" fill="#111" stroke="#111" stroke-width="0.25" text-anchor="middle">(<tspan font-weight="bold">d</tspan>)</text>
<text x="403.60" y="357.80" font-family='"Liberation Sans", Arial, sans-serif' font-size="6.5" fill="#1e1e1e" stroke="#1e1e1e" stroke-width="0.18" text-anchor="middle">&#957;(N-H)</text>
<line x1="393.60" y1="360.90" x2="413.60" y2="360.90" stroke="#505050" stroke-width="1.4" />
<text x="478.20" y="246.40" font-family='"Liberation Sans", Arial, sans-serif' font-size="6.5" fill="#1e1e1e" stroke="#1e1e1e" stroke-width="0.18" text-anchor="middle">&#957;<tspan font-size="3.8" dy="1.6">s</tspan><tspan dy="-1.6">(COO)</tspan></text>
<line x1="475.30" y1="249.30" x2="481.10" y2="249.30" stroke="#111" stroke-width="1.0" />
<text x="461.00" y="261.80" font-family='"Liberation Sans", Arial, sans-serif' font-size="6.5" fill="#1e1e1e" stroke="#1e1e1e" stroke-width="0.18" text-anchor="middle">&#957;(C=C)</text>
<line x1="461.10" y1="262.60" x2="464.13" y2="275.48" stroke="#222" stroke-width="0.7" />
<polygon points="464.80,278.30 462.85,275.47 465.28,274.90" fill="#222"/>
<text x="440.50" y="272.00" font-family='"Liberation Sans", Arial, sans-serif' font-size="6.5" fill="#1e1e1e" stroke="#1e1e1e" stroke-width="0.18" text-anchor="middle">&#957;<tspan font-size="3.8" dy="1.6">as</tspan><tspan dy="-1.6">(COO)</tspan></text>
<line x1="454.60" y1="271.40" x2="461.19" y2="281.29" stroke="#222" stroke-width="0.7" />
<polygon points="462.80,283.70 459.98,281.73 462.07,280.34" fill="#222"/>
<line x1="454.60" y1="271.40" x2="463.07" y2="279.23" stroke="#222" stroke-width="0.7" />
<polygon points="465.20,281.20 462.00,279.95 463.70,278.11" fill="#222"/>
<text transform="translate(459.40,317.90) rotate(-90)" font-family='"Liberation Sans", Arial, sans-serif' font-size="6.5" fill="#1e1e1e" stroke="#1e1e1e" stroke-width="0.18" text-anchor="middle">&#957;(C=O)</text>
<text transform="translate(475.00,322.30) rotate(-90)" font-family='"Liberation Sans", Arial, sans-serif' font-size="6.5" fill="#1e1e1e" stroke="#1e1e1e" stroke-width="0.18" text-anchor="middle">&#957;(C=N)</text>
<line x1="470.80" y1="334.20" x2="474.00" y2="334.20" stroke="#222" stroke-width="0.9" />
<text transform="translate(488.80,298.00) rotate(-90)" font-family='"Liberation Sans", Arial, sans-serif' font-size="6.5" fill="#1e1e1e" stroke="#1e1e1e" stroke-width="0.18" text-anchor="middle">&#957;(C-N)</text>
</svg></body></html>
